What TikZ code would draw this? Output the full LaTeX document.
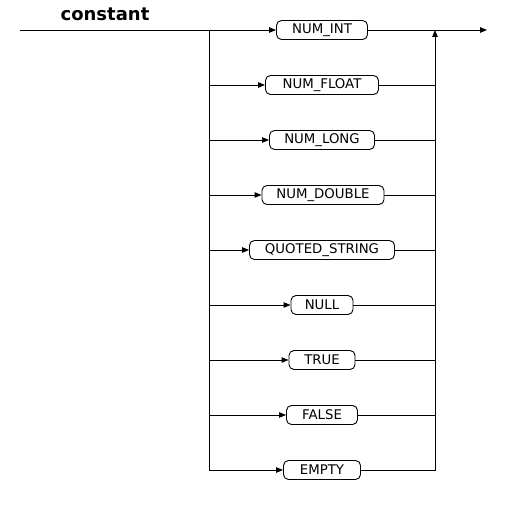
\documentclass[tikz,border=0pt]{standalone}
\usepackage{fontspec}
\setmainfont{DejaVu Sans}
\usepackage{tikz}
\usetikzlibrary{arrows.meta, positioning, calc}

\begin{document}
\begin{tikzpicture}[
  x=1pt, y=-1pt,
  >={Triangle[length=7pt, width=5.5pt]},
  line width=0.9pt,
  font=\fontsize{13.3}{15}\selectfont,
  box/.style={draw, rounded corners=5pt, minimum height=19pt, inner sep=0pt, align=center},
  title/.style={font=\fontsize{18}{21}\selectfont\bfseries}
]
\useasboundingbox (0,0) rectangle (505,510);

% Rule name
\node[title] (name) at (105,14) {constant};

% Main line points
\coordinate (in) at (20,30);
\coordinate (split) at (209,30);
\coordinate (join) at (435,30);
\coordinate (out) at (487,30);

% Alternatives
\node[box, minimum width=91pt] (int) at (322,30) {NUM\_INT};
\node[box, minimum width=113pt] (float) at (322,85) {NUM\_FLOAT};
\node[box, minimum width=105pt] (long) at (322,140) {NUM\_LONG};
\node[box, minimum width=122pt] (double) at (323,195) {NUM\_DOUBLE};
\node[box, minimum width=145pt] (quoted) at (322,250) {QUOTED\_STRING};
\node[box, minimum width=62pt] (null) at (322,305) {NULL};
\node[box, minimum width=66pt] (true) at (322,360) {TRUE};
\node[box, minimum width=71pt] (false) at (322,415) {FALSE};
\node[box, minimum width=77pt] (empty) at (322,470) {EMPTY};

% Entry branches
\draw[->] (in) -- (int.west);
\draw[->] (float.west -| split) -- (float.west);
\draw[->] (long.west -| split) -- (long.west);
\draw[->] (double.west -| split) -- (double.west);
\draw[->] (quoted.west -| split) -- (quoted.west);
\draw[->] (null.west -| split) -- (null.west);
\draw[->] (true.west -| split) -- (true.west);
\draw[->] (false.west -| split) -- (false.west);
\draw[->] (split) |- (empty.west);

% Exit branches
\draw[->] (int.east) -- (out);
\draw (float.east) -- (float.east -| join);
\draw (long.east) -- (long.east -| join);
\draw (double.east) -- (double.east -| join);
\draw (quoted.east) -- (quoted.east -| join);
\draw (null.east) -- (null.east -| join);
\draw (true.east) -- (true.east -| join);
\draw (false.east) -- (false.east -| join);
\draw[->] (empty.east) -| (join);

\end{tikzpicture}
\end{document}
